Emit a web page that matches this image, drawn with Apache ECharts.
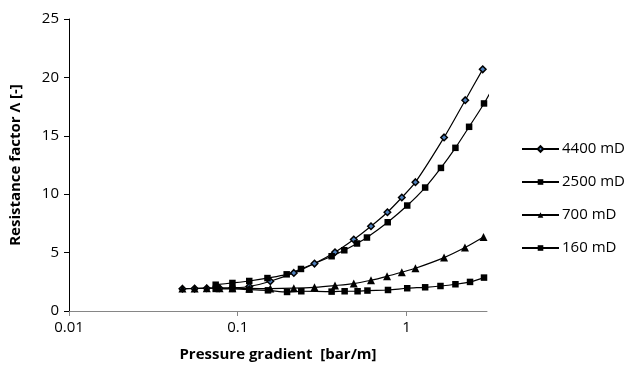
<!DOCTYPE html>
<html><head><meta charset="utf-8">
<script src="https://cdn.jsdelivr.net/npm/echarts@6/dist/echarts.min.js"></script>
<style>html,body{margin:0;padding:0;background:#fff}#c{width:628px;height:370px}</style>
</head><body><div id="c"></div>
<script>
const seriesNames = ['4400 mD', '2500 mD', '700 mD', '160 mD'];
const x4400 = [0.047, 0.0555, 0.0655, 0.078, 0.093, 0.117, 0.156, 0.215, 0.285, 0.377, 0.487, 0.616, 0.771, 0.938, 1.13, 1.67, 2.23, 2.83];
const y4400 = [1.9, 1.92, 1.95, 1.95, 1.98, 2.1, 2.55, 3.26, 4.06, 5.03, 6.12, 7.26, 8.46, 9.72, 11.03, 14.86, 18.05, 20.69];
const x2500 = [0.074, 0.093, 0.117, 0.150, 0.195, 0.237, 0.360, 0.428, 0.509, 0.583, 0.774, 1.01, 1.29, 1.60, 1.95, 2.35, 2.88, 3.5];
const y2500 = [2.25, 2.40, 2.57, 2.82, 3.14, 3.60, 4.69, 5.20, 5.78, 6.29, 7.60, 9.03, 10.57, 12.25, 13.97, 15.77, 17.77, 20.0];
const x700 = [0.047, 0.0555, 0.0655, 0.078, 0.093, 0.117, 0.156, 0.215, 0.285, 0.377, 0.487, 0.616, 0.767, 0.938, 1.13, 1.67, 2.22, 2.86];
const y700 = [1.92, 1.93, 1.95, 1.95, 1.95, 1.93, 1.92, 1.95, 2.03, 2.18, 2.35, 2.63, 2.97, 3.32, 3.66, 4.57, 5.43, 6.34];
const x160 = [0.074, 0.093, 0.117, 0.151, 0.196, 0.238, 0.360, 0.430, 0.513, 0.587, 0.777, 1.01, 1.29, 1.59, 1.95, 2.38, 2.88];
const y160 = [1.89, 1.89, 1.83, 1.77, 1.63, 1.69, 1.66, 1.69, 1.69, 1.75, 1.80, 1.95, 2.03, 2.14, 2.29, 2.49, 2.86];
const xTicks = [0.01, 0.1, 1];
const yTicks = [0, 5, 10, 15, 20, 25];

const zip = (xs, ys) => xs.map((x, i) => [x, ys[i]]);
const FONT = 'Open Sans';
const chart = echarts.init(document.getElementById('c'), null, {renderer: 'canvas'});
const mk = (name, xs, ys, symbol, size, fill) => ({
  name, type: 'line', data: zip(xs, ys), smooth: 0.3,
  symbol, symbolSize: size, clip: true,
  lineStyle: {color: '#000', width: 1.2},
  itemStyle: {color: fill, borderColor: '#000', borderWidth: fill === '#000' ? 0 : 1.5},
  emphasis: {disabled: true}
});
chart.setOption({
  animation: false,
  textStyle: {fontFamily: FONT},
  grid: {left: 69, right: 141, top: 19, bottom: 59},
  legend: {
    orient: 'vertical', left: 516, top: 136, itemGap: 17, itemWidth: 37, itemHeight: 7,
    textStyle: {fontFamily: FONT, fontSize: 15, lineHeight: 16, color: '#000', padding: [0, 0, 0, -2]},
    data: seriesNames
  },
  xAxis: {
    type: 'log', logBase: 10, min: xTicks[0], max: 3,
    name: 'Pressure gradient  [bar/m]', nameLocation: 'middle', nameGap: 36,
    nameTextStyle: {fontFamily: FONT, fontSize: 15, fontWeight: 'bold', color: '#000'},
    axisLine: {lineStyle: {color: '#868686', width: 1}},
    axisTick: {show: true, length: 5, lineStyle: {color: '#868686'}},
    minorTick: {show: false},
    axisLabel: {fontFamily: FONT, fontSize: 15, color: '#000', margin: 9, showMaxLabel: false,
      formatter: v => (xTicks.includes(+v.toPrecision(3)) ? String(+v.toPrecision(3)) : '')},
    splitLine: {show: false}
  },
  yAxis: {
    type: 'value', min: yTicks[0], max: yTicks[yTicks.length - 1], interval: 5,
    name: 'Resistance factor Λ [-]', nameLocation: 'middle', nameGap: 46, nameRotate: 90,
    nameTextStyle: {fontFamily: FONT, fontSize: 15, fontWeight: 'bold', color: '#000'},
    axisLine: {show: true, lineStyle: {color: '#000', width: 1}},
    axisTick: {show: true, length: 5, lineStyle: {color: '#000'}},
    axisLabel: {fontFamily: FONT, fontSize: 15, color: '#000', margin: 10},
    splitLine: {show: false}
  },
  series: [
    mk(seriesNames[0], x4400, y4400, 'diamond', 6.5, '#4f81bd'),
    mk(seriesNames[1], x2500, y2500, 'rect', 6.5, '#000'),
    mk(seriesNames[2], x700, y700, 'triangle', 8, '#000'),
    mk(seriesNames[3], x160, y160, 'rect', 6.5, '#000')
  ]
});
</script></body></html>
